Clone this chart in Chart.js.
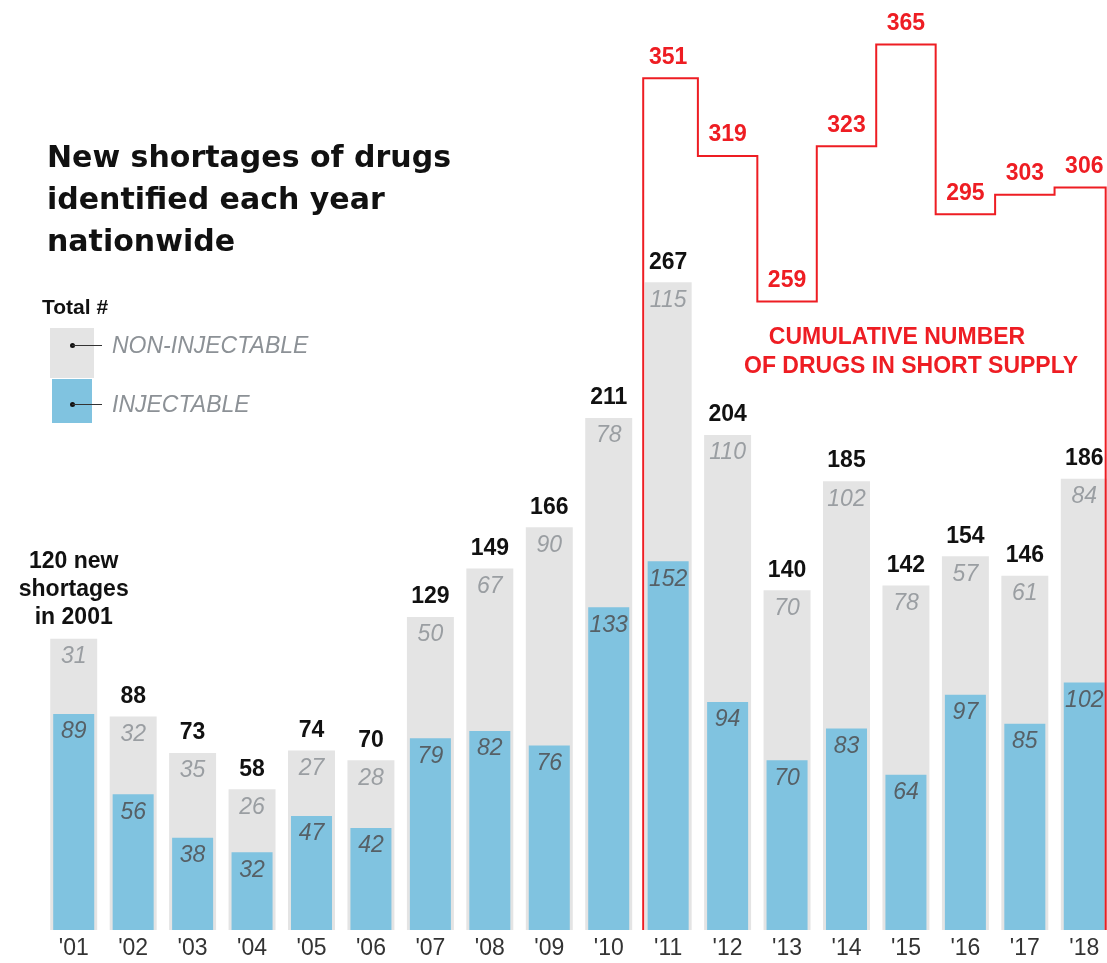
<!DOCTYPE html>
<html>
<head>
<meta charset="utf-8">
<script src="https://cdn.jsdelivr.net/npm/chart.js@4.4.1/dist/chart.umd.min.js"></script>
<style>
    html, body { margin: 0; padding: 0; background: #fff; overflow: hidden; }
    body { width: 1107px; height: 963px; position: relative; font-family: "Liberation Sans", Arial, sans-serif; }
    #chart { position: absolute; left: 0; top: 0; }
    .title {
        position: absolute; left: 47px; top: 136px;
        font-family: "DejaVu Sans", sans-serif;
        font-weight: bold; font-size: 30px; line-height: 42px; color: #111; white-space: nowrap;
    }
    .total { position: absolute; left: 42px; top: 295px; font-weight: bold; font-size: 21px; line-height: 24px; color: #111; }
    .box { position: absolute; }
    .dot { position: absolute; width: 5px; height: 5px; border-radius: 50%; background: #111; }
    .lead { position: absolute; height: 1px; background: #333; }
    .key { position: absolute; left: 112px; font-style: italic; font-size: 23px; line-height: 26px; color: #8c9196; white-space: nowrap; }
</style>
</head>
<body>
<canvas id="chart" width="1114" height="963"></canvas>

<div class="title">New shortages of drugs<br>identified each year<br>nationwide</div>

<div class="total">Total #</div>
<div class="box" style="left:50px;top:328px;width:44px;height:50px;background:#e4e4e4"></div>
<div class="box" style="left:52px;top:379px;width:40px;height:44px;background:#80c3e0"></div>
<div class="dot" style="left:70px;top:343px"></div>
<div class="lead" style="left:72px;top:345px;width:30px"></div>
<div class="dot" style="left:70px;top:402px"></div>
<div class="lead" style="left:72px;top:404px;width:30px"></div>
<div class="key" style="top:332px">NON-INJECTABLE</div>
<div class="key" style="top:391px">INJECTABLE</div>

<script>
const years = ["'01", "'02", "'03", "'04", "'05", "'06", "'07", "'08", "'09",
    "'10", "'11", "'12", "'13", "'14", "'15", "'16", "'17", "'18"];
const injectable = [89, 56, 38, 32, 47, 42, 79, 82, 76, 133, 152, 94, 70, 83, 64, 97, 85, 102];
const nonInjectable = [31, 32, 35, 26, 27, 28, 50, 67, 90, 78, 115, 110, 70, 102, 78, 57, 61, 84];
const firstLabel = ['120 new', 'shortages', 'in 2001'];

// cumulative number in short supply, from '11 onwards
const cumulativeStart = 10;
const cumulative = [351, 319, 259, 323, 365, 295, 303, 306];

const totals = injectable.map((v, i) => v + nonInjectable[i]);

const FONT = '"Liberation Sans", Arial, sans-serif';
const BLUE = '#80c3e0';
const GRAY = '#e4e4e4';
const RED = '#ee1d23';

// step outline: rises at the left edge of the '11 bar, drops at the right edge
let linePoints = [
    { x: cumulativeStart - 0.42, y: 0 },
    { x: cumulativeStart - 0.42, y: cumulative[0] }
];
for (let i = 1; i < cumulative.length; i++) {
    linePoints.push({ x: cumulativeStart + i - 0.5, y: cumulative[i] });
}
linePoints.push({ x: cumulativeStart + cumulative.length - 1 + 0.36, y: 0 });

const labelPlugin = {
    id: 'labels',
    afterDatasetsDraw(chart) {
        const ctx = chart.ctx;
        const x = chart.scales.x;
        const y = chart.scales.y;
        ctx.save();
        ctx.textAlign = 'center';
        ctx.textBaseline = 'middle';

        for (let i = 0; i < years.length; i++) {
            let cx = x.getPixelForValue(i);
            let topY = y.getPixelForValue(totals[i]);
            let injY = y.getPixelForValue(injectable[i]);

            ctx.font = `italic 23px ${FONT}`;
            ctx.fillStyle = '#9a9ea2';
            ctx.fillText(String(nonInjectable[i]), cx, topY + 18);
            ctx.fillStyle = '#566066';
            ctx.fillText(String(injectable[i]), cx, injY + 18);

            ctx.font = `bold 23px ${FONT}`;
            ctx.fillStyle = '#111';
            if (i === 0) {
                for (let k = 0; k < firstLabel.length; k++) {
                    ctx.fillText(firstLabel[k], cx, topY - 21 - (firstLabel.length - 1 - k) * 28);
                }
            } else {
                ctx.fillText(String(totals[i]), cx, topY - 20);
            }
        }

        ctx.font = `bold 23px ${FONT}`;
        ctx.fillStyle = RED;
        for (let i = 0; i < cumulative.length; i++) {
            let cx = x.getPixelForValue(cumulativeStart + i);
            ctx.fillText(String(cumulative[i]), cx, y.getPixelForValue(cumulative[i]) - 21);
        }

        ctx.fillText('CUMULATIVE NUMBER', 897, 338);
        ctx.fillText('OF DRUGS IN SHORT SUPPLY', 911, 367);
        ctx.restore();
    }
};

new Chart(document.getElementById('chart'), {
    type: 'bar',
    data: {
        labels: years,
        datasets: [
            {
                label: 'Injectable',
                data: injectable,
                backgroundColor: BLUE,
                barPercentage: 0.69,
                categoryPercentage: 1,
                grouped: false,
                order: 1
            },
            {
                label: 'Total',
                data: totals,
                backgroundColor: GRAY,
                barPercentage: 0.79,
                categoryPercentage: 1,
                grouped: false,
                order: 2
            },
            {
                type: 'line',
                label: 'Cumulative',
                data: linePoints,
                xAxisID: 'xl',
                borderColor: RED,
                borderWidth: 2,
                pointRadius: 0,
                stepped: 'before',
                fill: false,
                order: 0
            }
        ]
    },
    options: {
        responsive: false,
        animation: false,
        layout: { padding: { left: 44, right: 0, top: 8, bottom: 0 } },
        plugins: {
            legend: { display: false },
            tooltip: { enabled: false }
        },
        scales: {
            x: {
                grid: { display: false, drawTicks: false },
                border: { display: false },
                ticks: {
                    font: { family: FONT, size: 23 },
                    color: '#333',
                    padding: 5,
                    maxRotation: 0,
                    autoSkip: false
                },
                afterFit(scale) { scale.height = 33; }
            },
            xl: { type: 'linear', display: false, offset: false, min: -0.5, max: 17.5 },
            y: { display: false, min: 0, max: 380 }
        }
    },
    plugins: [labelPlugin]
});
</script>
</body>
</html>
